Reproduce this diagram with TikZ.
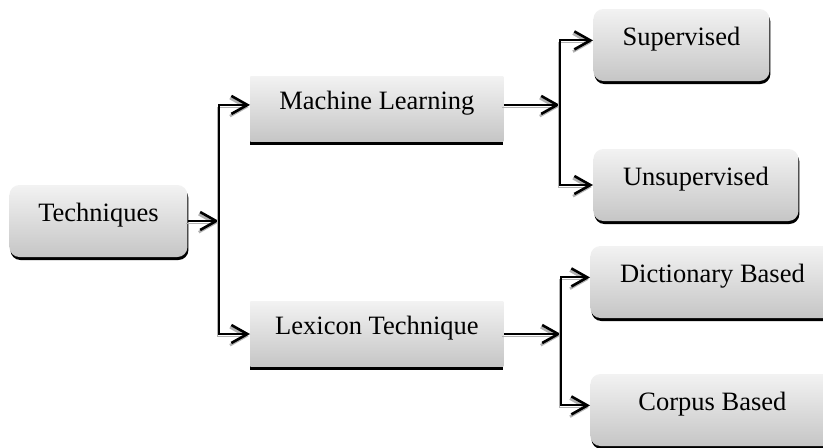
\documentclass[tikz,border=0pt]{standalone}
\usepackage{fontspec}
\setmainfont{Liberation Serif}
\usepackage{tikz}
\usetikzlibrary{positioning}
\usetikzlibrary{shadows}
\usetikzlibrary{arrows.meta}

\begin{document}
\begin{tikzpicture}
	[x=0.5pt, y=-0.5pt,
	 box/.style={anchor=west, inner xsep=0pt, inner ysep=0pt, top color=gray!10, bottom color=gray!45,
	   font=\fontsize{13.25pt}{16pt}\selectfont},
	 rbox/.style={box, rounded corners=5pt, text height=18pt, text depth=18pt,
	   drop shadow={shadow xshift=0.5pt, shadow yshift=-1.5pt, fill=black, opacity=1}},
	 sbox/.style={box, text height=16.5pt, text depth=16pt,
	   drop shadow={shadow xshift=0pt, shadow yshift=-1.6pt, fill=black, opacity=1}},
	 link/.style={line width=1pt, -{Straight Barb[length=8pt, width=9pt, line width=1.3pt]},
	   preaction={draw=gray!60, transform canvas={xshift=-0.7pt, yshift=-1.1pt}}}]
	\useasboundingbox (0,0) rectangle (823,447);
	\clip (0,0) rectangle (823,447);

	\node[rbox, minimum width=89pt] (tech) at (9,221) {Techniques};
	\node[sbox, minimum width=126.5pt] (ml) at (250,109) {Machine Learning};
	\node[sbox, minimum width=126.5pt] (lex) at (250,334) {Lexicon Technique};
	\node[rbox, minimum width=88pt] (sup) at (593,45) {Supervised};
	\node[rbox, minimum width=102.5pt] (uns) at (593,185) {Unsupervised};
	\node[rbox, minimum width=122pt] (dic) at (590,282) {Dictionary Based};
	\node[rbox, minimum width=122pt] (cor) at (590,410) {Corpus Based};

	% branch points
	\coordinate[right=15.5pt of tech.east] (t);
	\coordinate[right=28pt of ml.mid east] (m);
	\coordinate[right=28.5pt of lex.east] (l);

	\draw[link] (tech.east) -- (t);
	\draw[link] (t) |- (ml.mid west);
	\draw[link] (t) |- (lex.west);
	\draw[link] (ml.mid east) -- (m);
	\draw[link] (m) |- (sup.mid west);
	\draw[link] (m) |- (uns.west);
	\draw[link] (lex.east) -- (l);
	\draw[link] (l) |- (dic.mid west);
	\draw[link] (l) |- (cor.mid west);
\end{tikzpicture}
\end{document}
